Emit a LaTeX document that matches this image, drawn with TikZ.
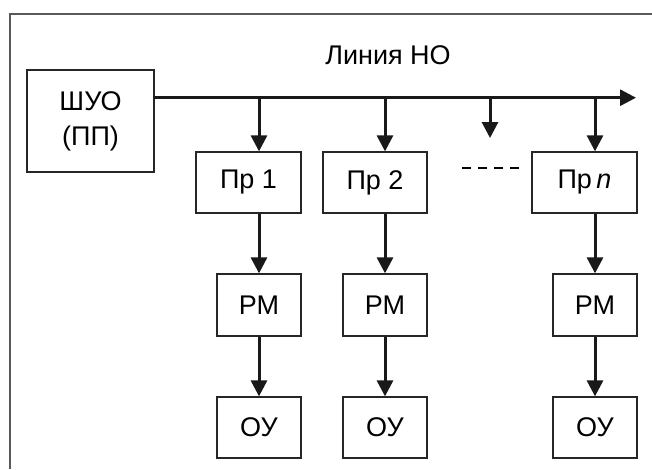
\documentclass[tikz,border=0pt]{standalone}
\usepackage{fontspec}
\setmainfont{Liberation Sans}
\usetikzlibrary{arrows.meta}
\begin{document}
\begin{tikzpicture}[x=1pt,y=-1pt,
  blk/.style={draw=black!85, line width=1.3pt, rectangle, inner sep=0pt,
    minimum height=61pt, font=\fontsize{27}{35}\selectfont, align=center},
  flow/.style={line width=3pt, draw=black!90,
    -{Triangle[length=16pt,width=16pt]}},
  frame/.style={draw=black!65, line width=1.3pt}]
\useasboundingbox (0,0) rectangle (652,469);
\fill[white] (0,0) rectangle (652,469);

% outer frame (top and left edges)
\draw[frame] (10,469) -- (10,14) -- (652,14);

% control unit and bus
\node[blk, minimum width=127pt, minimum height=102pt] (shuo) at (90.5,121) {ШУО\\(ПП)};
\coordinate (busstart) at (154,97.7);
\coordinate (busend) at (636,97.7);
\node[font=\fontsize{27}{32}\selectfont] (label) at (388,55) {Линия НО};

% receivers
\node[blk, minimum width=105pt] (p1) at (248.5,182.5) {Пр 1};
\node[blk, minimum width=104pt] (p2) at (375,182.5) {Пр 2};
\node[blk, minimum width=105pt] (pn) at (584.5,182.5) {Пр\,\textit{n}};

% actuators
\node[blk, minimum width=84pt, minimum height=62pt] (rm1) at (259,305) {РМ};
\node[blk, minimum width=84pt, minimum height=62pt] (rm2) at (385,305) {РМ};
\node[blk, minimum width=84pt, minimum height=62pt] (rm3) at (595,305) {РМ};

% controlled objects
\node[blk, minimum width=84pt] (oy1) at (259,427.5) {ОУ};
\node[blk, minimum width=84pt] (oy2) at (385,427.5) {ОУ};
\node[blk, minimum width=84pt] (oy3) at (595,427.5) {ОУ};

% taps on the bus
\coordinate (t1) at (259,97.7);
\coordinate (t2) at (385,97.7);
\coordinate (t3) at (490,97.7);
\coordinate (t3e) at (490,138);
\coordinate (tn) at (595,97.7);

\draw[flow] (busstart) -- (busend);
\draw[flow] (t1) -- (t1 |- p1.north);
\draw[flow] (t2) -- (t2 |- p2.north);
\draw[flow] (t3) -- (t3e);
\draw[flow] (tn) -- (tn |- pn.north);

\draw[flow] (rm1 |- p1.south) -- (rm1.north);
\draw[flow] (rm2 |- p2.south) -- (rm2.north);
\draw[flow] (rm3 |- pn.south) -- (rm3.north);
\draw[flow] (rm1.south) -- (oy1.north);
\draw[flow] (rm2.south) -- (oy2.north);
\draw[flow] (rm3.south) -- (oy3.north);

% ellipsis between receivers
\coordinate (d1) at (462,168);
\coordinate (d2) at (519,168);
\draw[line width=2pt, dash pattern=on 9pt off 7pt] (d1) -- (d2);
\end{tikzpicture}
\end{document}
